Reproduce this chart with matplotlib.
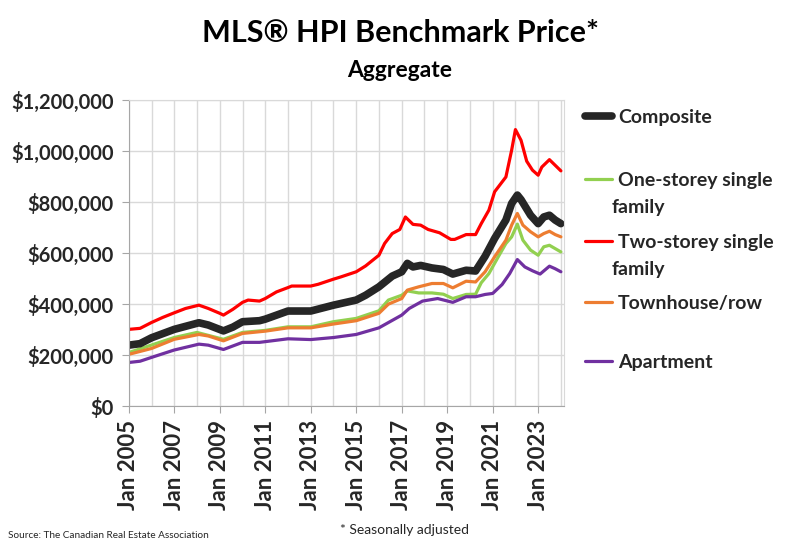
import numpy as np
import pandas as pd
import matplotlib
matplotlib.use("Agg")
import matplotlib.pyplot as plt
import matplotlib.dates as mdates
from matplotlib.ticker import FuncFormatter, MultipleLocator, FixedLocator

plt.rcParams['font.family'] = ['Lato', 'DejaVu Sans']

# values (anchor points, $ thousands)
two_dates = ["2005-01", "2005-07", "2006-01", "2006-07", "2007-01", "2007-07", "2008-02", "2008-07",
             "2009-01", "2009-03", "2009-08", "2010-01", "2010-04", "2010-10", "2011-01", "2011-07",
             "2012-01", "2012-03", "2013-01", "2013-05", "2014-01", "2014-05", "2015-01", "2015-06",
             "2016-01", "2016-04", "2016-08", "2016-12", "2017-03", "2017-07", "2017-11", "2018-03",
             "2018-09", "2019-03", "2019-05", "2019-11", "2020-04", "2020-07", "2020-11", "2021-02",
             "2021-08", "2021-11", "2022-01", "2022-04", "2022-07", "2022-10", "2023-01", "2023-03",
             "2023-07", "2023-10", "2024-01"]
two_storey = [301, 305, 328, 348, 366, 383, 396, 383, 364, 357, 380, 407, 416, 412, 422, 448,
              465, 471, 471, 478, 498, 507, 527, 550, 592, 638, 677, 693, 742, 713, 710, 693,
              680, 654, 654, 673, 673, 716, 769, 841, 899, 1004, 1085, 1043, 961, 926, 906, 938,
              967, 945, 923]

comp_dates = ["2005-01", "2005-07", "2006-01", "2007-01", "2008-02", "2008-07", "2009-03", "2009-08",
              "2010-01", "2010-10", "2011-01", "2012-01", "2013-01", "2014-01", "2015-01", "2015-06",
              "2016-01", "2016-08", "2017-01", "2017-04", "2017-07", "2017-11", "2018-05", "2018-11",
              "2019-04", "2019-11", "2020-04", "2020-09", "2021-02", "2021-08", "2021-11", "2022-02",
              "2022-04", "2022-09", "2023-01", "2023-04", "2023-07", "2023-10", "2024-01"]
composite = [239, 245, 268, 301, 327, 318, 295, 310, 331, 335, 341, 373, 373, 396, 416, 435,
             468, 510, 527, 560, 546, 552, 542, 536, 518, 533, 530, 588, 658, 730, 795, 828,
             810, 749, 716, 742, 749, 730, 716]

town_dates = ["2005-01", "2006-01", "2007-01", "2008-02", "2008-07", "2009-03", "2010-01", "2011-01",
              "2012-01", "2013-01", "2014-01", "2015-01", "2016-01", "2016-06", "2017-01", "2017-04",
              "2017-10", "2018-05", "2018-11", "2019-04", "2019-11", "2020-04", "2020-09", "2021-02",
              "2021-08", "2021-11", "2022-02", "2022-05", "2022-09", "2023-01", "2023-04", "2023-07",
              "2023-10", "2024-01"]
townhouse = [203, 226, 262, 281, 275, 256, 285, 294, 307, 307, 322, 335, 364, 400, 422, 455,
             468, 481, 481, 464, 490, 487, 527, 586, 651, 710, 756, 710, 684, 664, 677, 686,
             673, 664]

one_dates = ["2005-01", "2007-01", "2008-01", "2009-03", "2010-01", "2011-01", "2012-01", "2013-01",
             "2014-01", "2015-01", "2016-01", "2016-06", "2017-01", "2017-04", "2017-10", "2018-05",
             "2018-11", "2019-04", "2019-11", "2020-04", "2020-07", "2020-11", "2021-04", "2021-08",
             "2021-11", "2022-02", "2022-05", "2022-09", "2023-01", "2023-04", "2023-07", "2023-10",
             "2024-01"]
one_storey = [210, 269, 289, 262, 289, 297, 311, 311, 331, 344, 374, 416, 435, 452, 444, 444,
              439, 422, 438, 439, 484, 520, 586, 638, 664, 714, 651, 612, 592, 625, 631, 618, 605]

apt_dates = ["2005-01", "2005-07", "2006-01", "2007-01", "2008-02", "2008-07", "2009-03", "2010-01",
             "2010-10", "2012-01", "2013-01", "2014-01", "2015-01", "2016-01", "2017-01", "2017-05",
             "2017-12", "2018-08", "2019-04", "2019-11", "2020-04", "2020-09", "2021-01", "2021-06",
             "2021-10", "2022-02", "2022-06", "2022-10", "2023-02", "2023-07", "2023-10", "2024-01"]
apartment = [171, 176, 191, 220, 243, 239, 222, 250, 250, 264, 261, 269, 281, 307, 357, 383,
             412, 422, 407, 429, 429, 438, 442, 477, 520, 575, 546, 531, 518, 549, 539, 527]

tick_years = [2005, 2007, 2009, 2011, 2013, 2015, 2017, 2019, 2021, 2023]

# name, second legend line, dates, values, colour, width, legend y (fig fraction)
series = [
    ("Composite", "", comp_dates, composite, "#262626", 5.5, 0.786),
    ("One-storey single", "family", one_dates, one_storey, "#92d050", 2.3, 0.671),
    ("Two-storey single", "family", two_dates, two_storey, "#ff0000", 2.3, 0.558),
    ("Townhouse/row", "", town_dates, townhouse, "#ed7d31", 2.3, 0.447),
    ("Apartment", "", apt_dates, apartment, "#7030a0", 2.3, 0.338),
]

fig = plt.figure(figsize=(8, 5.48), dpi=100)
ax = fig.add_axes([0.161, 0.259, 0.544, 0.558])

lines = {}
# thin series first, composite on top
for name, l2, d, v, c, lw, ly in series[1:] + series[:1]:
    ln, = ax.plot(pd.to_datetime(d), np.array(v) * 1000, color=c, lw=lw,
                  solid_capstyle="round", solid_joinstyle="round")
    lines[name] = ln

ax.set_ylim(0, 1200000)
ax.set_xlim(pd.Timestamp("2005-01-01"), pd.Timestamp("2024-02-20"))
ax.yaxis.set_major_locator(MultipleLocator(200000))
ax.yaxis.set_major_formatter(FuncFormatter(lambda x, p: "${:,.0f}".format(x)))
ax.xaxis.set_major_locator(FixedLocator(mdates.date2num([pd.Timestamp(f"{y}-01-01") for y in tick_years])))
ax.xaxis.set_minor_locator(mdates.YearLocator(1))
ax.xaxis.set_major_formatter(mdates.DateFormatter("Jan %Y"))

ax.grid(True, which="both", axis="x", color="#d9d9d9", lw=1)
ax.grid(True, which="major", axis="y", color="#d9d9d9", lw=1)
ax.set_axisbelow(True)
for s in ["top", "right"]:
    ax.spines[s].set_color("#d9d9d9")
for s in ["left", "bottom"]:
    ax.spines[s].set_color("#a6a6a6")

ax.tick_params(axis="y", length=5, color="#a6a6a6", labelsize=14.5, labelcolor="#262626", pad=6)
ax.tick_params(axis="x", which="major", length=5, color="#a6a6a6", labelsize=16,
               labelcolor="#262626", rotation=90, pad=5)
ax.tick_params(axis="x", which="minor", length=0)
for lab in ax.get_yticklabels() + ax.get_xticklabels():
    lab.set_fontweight("bold")

# legend, one entry at a time
for name, l2, d, v, c, lw, ly in series:
    leg = fig.legend([lines[name]], [name], loc="center left", bbox_to_anchor=(0.731, ly),
                     frameon=False, handlelength=1.4, handletextpad=0.3, borderpad=0,
                     borderaxespad=0, prop={"size": 14, "weight": "bold"})
    leg.get_texts()[0].set_color("#262626")
    if l2:
        fig.text(0.765, ly - 0.049, l2, fontsize=14, fontweight="bold", color="#262626",
                 va="center", ha="left")

fig.text(0.5, 0.94, "MLS® HPI Benchmark Price*", ha="center", va="center",
         fontsize=22, fontweight="bold", color="black")
fig.text(0.5, 0.872, "Aggregate", ha="center", va="center",
         fontsize=16.5, fontweight="bold", color="black")
fig.text(0.01, 0.022, "Source: The Canadian Real Estate Association", fontsize=7.2,
         color="#262626", va="center")
fig.text(0.505, 0.032, "* Seasonally adjusted", fontsize=10, color="#262626",
         ha="center", va="center")

fig.savefig("out.png", dpi=100)
